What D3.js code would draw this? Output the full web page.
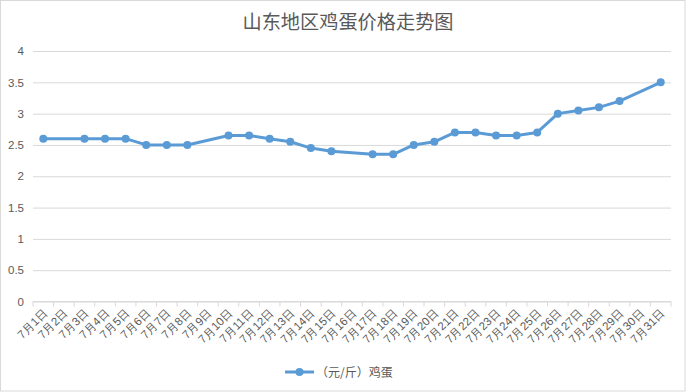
<!DOCTYPE html>
<html>
<head>
<meta charset="utf-8">
<script src="https://cdn.jsdelivr.net/npm/d3@7"></script>
<style>
html,body{margin:0;padding:0;background:#fff;}
svg{display:block;font-family:"Noto Sans CJK SC","Noto Sans",sans-serif;}
</style>
</head>
<body>
<svg id="chart" width="686" height="392"></svg>
<script>
const title = "山东地区鸡蛋价格走势图";
const seriesName = "（元/斤）鸡蛋";
const categories = ["7月1日","7月2日","7月3日","7月4日","7月5日","7月6日","7月7日","7月8日","7月9日","7月10日",
  "7月11日","7月12日","7月13日","7月14日","7月15日","7月16日","7月17日","7月18日","7月19日","7月20日",
  "7月21日","7月22日","7月23日","7月24日","7月25日","7月26日","7月27日","7月28日","7月29日","7月30日","7月31日"];
const values = [2.6,null,2.6,2.6,2.6,2.5,2.5,2.5,null,2.65,
  2.65,2.6,2.55,2.45,2.4,null,2.35,2.35,2.5,2.55,
  2.7,2.7,2.65,2.65,2.7,3.0,3.05,3.1,3.2,null,3.5];
const yTicks = [0,0.5,1,1.5,2,2.5,3,3.5,4];

const svg = d3.select("#chart");
const color = "#5B9BD5";
const textColor = "#595959";
const gridColor = "#d9d9d9";

svg.append("rect").attr("x",0.5).attr("y",0.5).attr("width",684.5).attr("height",390.5)
  .attr("fill","#fff").attr("stroke",gridColor);

const mLeft = 33, mRight = 671, mTop = 51, mBottom = 301.5;
const x = d3.scaleBand().domain(categories).range([mLeft,mRight]).paddingInner(0).paddingOuter(0);
const y = d3.scaleLinear().domain([0,4]).range([mBottom,mTop]);

svg.append("text").attr("x",348).attr("y",29).attr("text-anchor","middle")
  .attr("font-size",19.2).attr("fill",textColor).text(title);

// grid
const yAxis = svg.append("g").attr("transform",`translate(${mLeft},0)`)
  .call(d3.axisLeft(y).tickValues(yTicks).tickSize(-(mRight-mLeft)).tickFormat(d=>d3.format("")(d)));
yAxis.select(".domain").remove();
yAxis.selectAll(".tick line").attr("stroke",gridColor).attr("stroke-width",1);
yAxis.selectAll(".tick text").attr("x",-9).attr("fill",textColor).attr("font-size",11.5)
  .attr("font-family","'Liberation Sans','Noto Sans',sans-serif");

// x axis
const xAxis = svg.append("g").attr("transform",`translate(0,${mBottom})`)
  .call(d3.axisBottom(x).tickSize(0));
xAxis.select(".domain").attr("stroke",gridColor).attr("d",`M${mLeft},0H${mRight}`);
const bounds = categories.map(c=>x(c)).concat([mRight]);
xAxis.selectAll("line.bt").data(bounds).enter().append("line").attr("class","bt")
  .attr("x1",d=>d).attr("x2",d=>d).attr("y1",0).attr("y2",5).attr("stroke",gridColor);
xAxis.selectAll(".tick text")
  .attr("fill",textColor).attr("font-size",11.5)
  .attr("text-anchor","end")
  .attr("dy",0)
  .attr("transform","translate(5,12) rotate(-45)")
  .attr("y",0).attr("x",0);

// line
const pts = categories.map((c,i)=>({c,v:values[i]})).filter(d=>d.v!=null);
const line = d3.line().x(d=>x(d.c)+x.bandwidth()/2).y(d=>y(d.v));
svg.append("path").datum(pts).attr("d",line).attr("fill","none")
  .attr("stroke",color).attr("stroke-width",3).attr("stroke-linejoin","round");
svg.selectAll("circle.pt").data(pts).enter().append("circle").attr("class","pt")
  .attr("cx",d=>x(d.c)+x.bandwidth()/2).attr("cy",d=>y(d.v)).attr("r",4).attr("fill",color);

// legend
const lg = svg.append("g");
lg.append("line").attr("x1",285).attr("x2",314).attr("y1",372).attr("y2",372)
  .attr("stroke",color).attr("stroke-width",3);
lg.append("circle").attr("cx",299.5).attr("cy",372).attr("r",4).attr("fill",color);
lg.append("text").attr("x",316).attr("y",377).attr("font-size",12).attr("fill",textColor).text(seriesName);
</script>
</body>
</html>
